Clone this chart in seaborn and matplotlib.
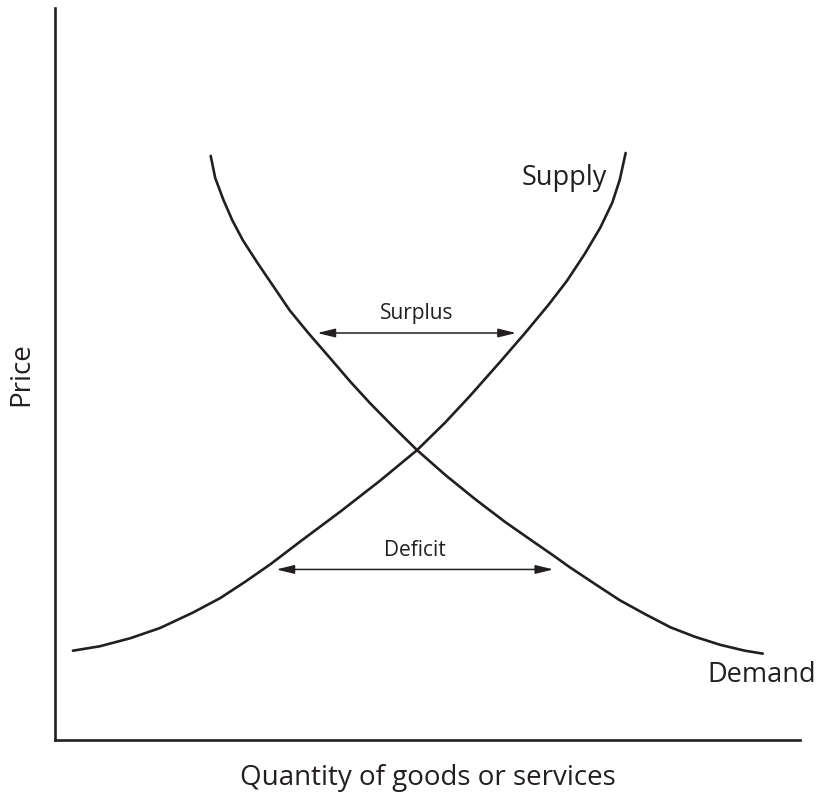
import matplotlib
matplotlib.use("Agg")
import matplotlib.pyplot as plt
import pandas as pd
import seaborn as sns

# Curve points (quantity 0-100, price 0-100)
supply_q = [2.4, 6.0, 10.1, 14.1, 18.5, 22.2, 25.5, 28.9, 32.9, 38.3, 43.6, 48.6,
            52.4, 55.7, 59.7, 63.1, 66.2, 68.7, 71.1, 73.2, 74.8, 75.8, 76.6]
supply_p = [12.2, 12.8, 13.9, 15.3, 17.4, 19.4, 21.6, 24.0, 27.1, 31.2, 35.4, 39.6,
            43.4, 47.0, 51.6, 55.6, 59.4, 62.7, 66.4, 70.0, 73.4, 76.5, 80.2]

demand_q = [20.9, 21.5, 22.6, 23.8, 25.2, 27.1, 29.3, 31.5, 34.0, 36.9, 39.6, 42.3, 45.4, 48.6,
            52.4, 56.4, 60.4, 64.2, 66.9, 69.1, 72.5, 75.8, 79.2, 82.6, 85.9, 89.3, 92.6, 95.0]
demand_p = [79.8, 76.8, 73.8, 71.0, 68.3, 65.3, 62.0, 58.7, 55.6, 52.2, 49.0, 46.0, 42.8, 39.6,
            36.2, 32.9, 29.8, 27.1, 25.2, 23.6, 21.3, 19.1, 17.2, 15.4, 14.1, 13.0, 12.2, 11.8]

gap_labels = ["Surplus", "Deficit"]
gap_price = [55.6, 23.3]
gap_from = [35.2, 29.7]
gap_to = [61.9, 66.9]

INK = "#231f20"

sns.set_theme(style="white")
plt.rcParams["font.family"] = ["Open Sans", "DejaVu Sans"]

supply = pd.DataFrame({"q": supply_q, "p": supply_p})
demand = pd.DataFrame({"q": demand_q, "p": demand_p})

fig = plt.figure(figsize=(8.21, 8.0), dpi=100)
ax = fig.add_axes([0.067, 0.075, 0.9074, 0.915])

sns.lineplot(data=supply, x="q", y="p", sort=False, color=INK, lw=1.9, ax=ax)
sns.lineplot(data=demand, x="q", y="p", sort=False, color=INK, lw=1.9, ax=ax)

for label, p, q0, q1 in zip(gap_labels, gap_price, gap_from, gap_to):
    ax.annotate("", xy=(q1, p), xytext=(q0, p),
                arrowprops=dict(arrowstyle="<|-|>,head_length=0.9,head_width=0.22",
                                color=INK, lw=1.1, shrinkA=0, shrinkB=0))
    ax.text((q0 + q1) / 2, p + 2.6, label, ha="center", va="center",
            fontsize=15, color=INK)

ax.text(68.3, 76.8, "Supply", ha="center", va="center", fontsize=19.5, color=INK)
ax.text(94.9, 8.9, "Demand", ha="center", va="center", fontsize=19.5, color=INK)

ax.set_xlim(0, 100)
ax.set_ylim(0, 100)
ax.set_xticks([])
ax.set_yticks([])
ax.set_xlabel("Quantity of goods or services", fontsize=20, color=INK, labelpad=17)
ax.set_ylabel("Price", fontsize=20, color=INK, labelpad=14)

for side in ["top", "right"]:
    ax.spines[side].set_visible(False)
for side in ["left", "bottom"]:
    ax.spines[side].set_color(INK)
    ax.spines[side].set_linewidth(1.9)

fig.savefig("out.png", dpi=100, facecolor="white")
plt.close(fig)
